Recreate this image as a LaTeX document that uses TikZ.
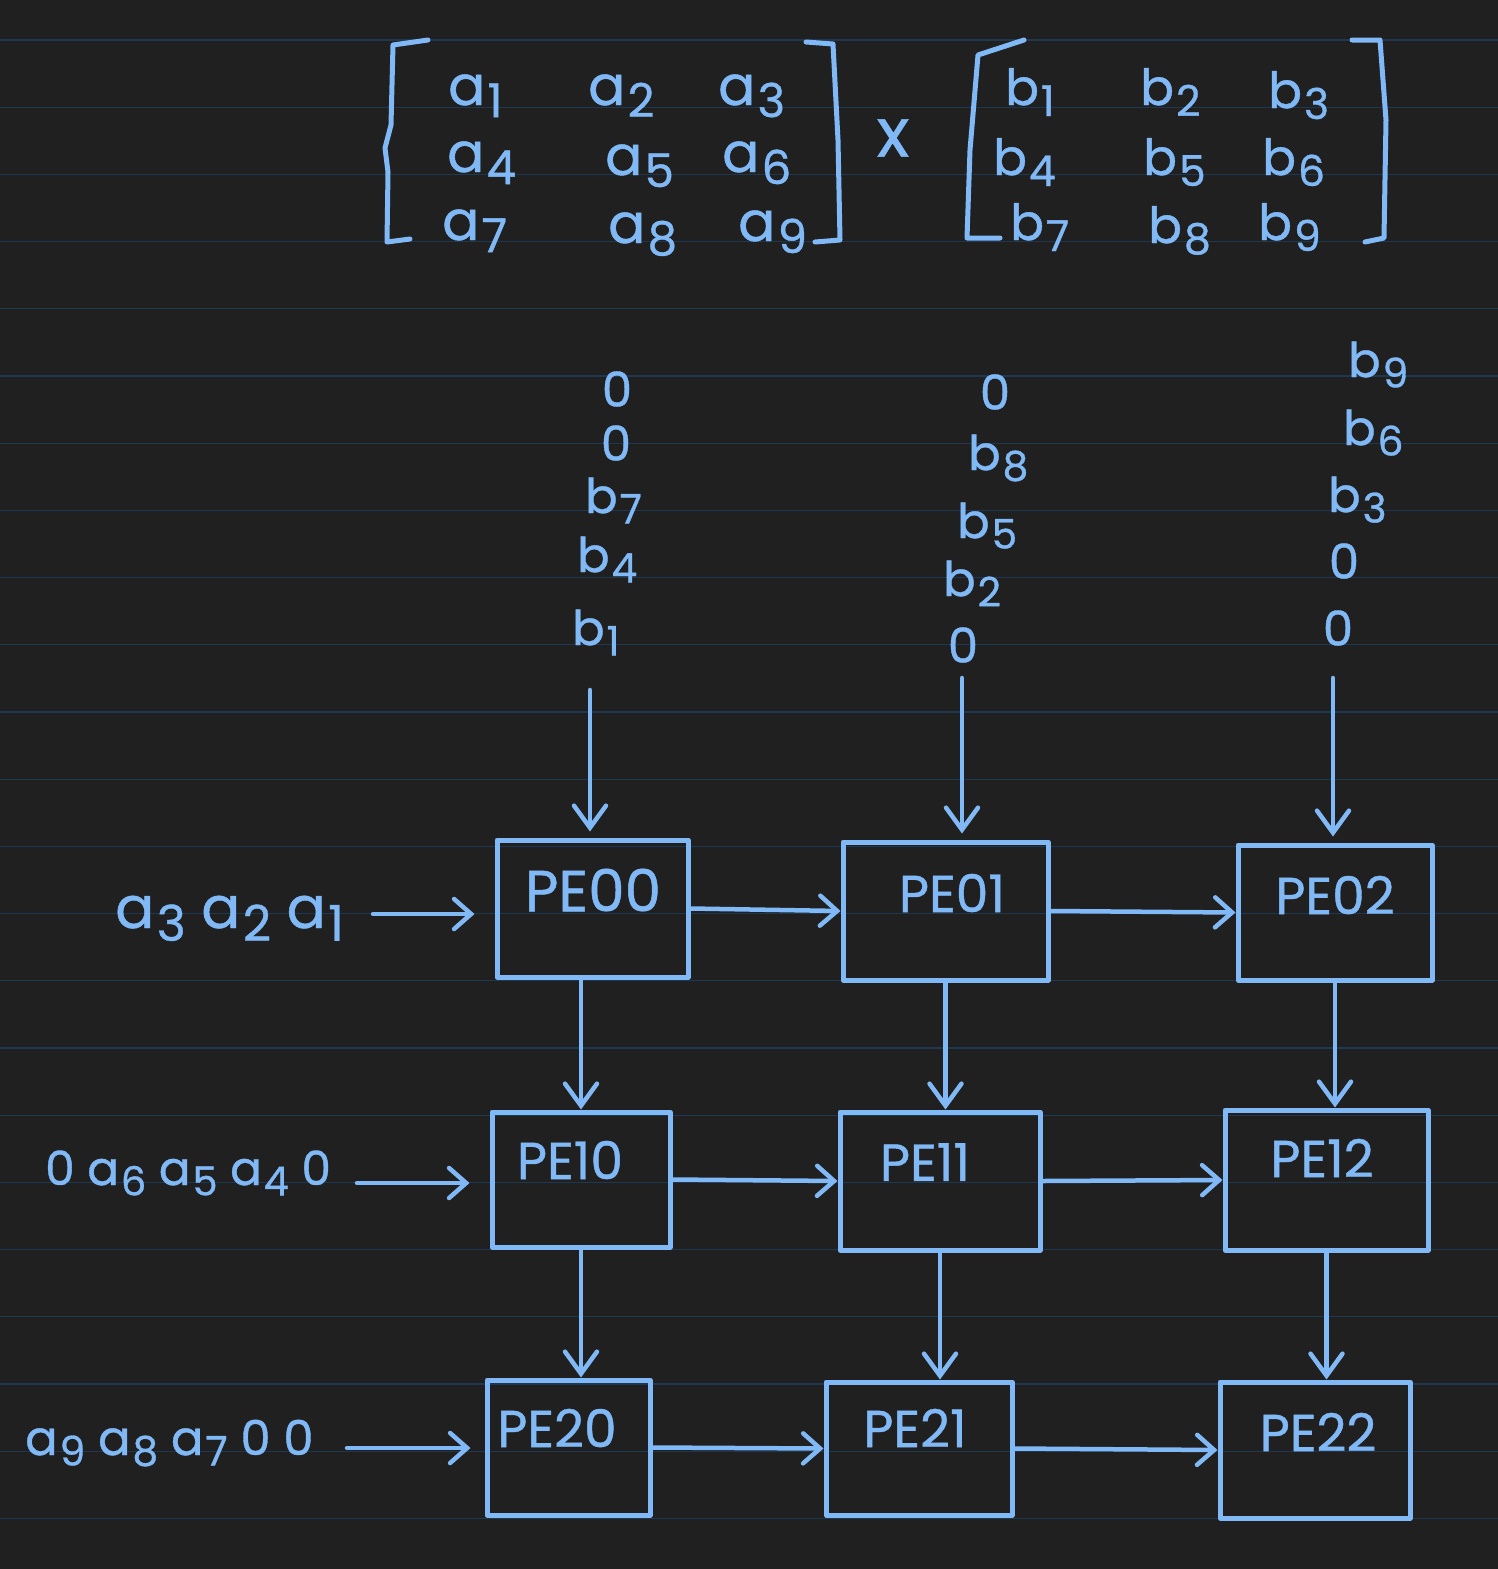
\documentclass[tikz,border=0pt]{standalone}
\usepackage{fontspec}
\usepackage{graphicx}
\setmainfont{Poppins}[FakeBold=0.8]
\usetikzlibrary{arrows.meta}

\definecolor{paper}{RGB}{32,32,32}
\definecolor{ruling}{RGB}{30,56,82}
\definecolor{ink}{RGB}{128,185,246}

% letter with a lowered, slightly smaller index
\newcommand\ix[2]{#1\kern0.04em\raisebox{-0.22em}{\scalebox{0.85}{#2}}}

\tikzset{
  stroke/.style={draw=ink, line width=5pt, line cap=round, line join=round},
  arr/.style={draw=ink, line width=4.5pt, line cap=round,
    -{Straight Barb[length=17pt,width=30pt,line cap=round]}},
  varr/.style={arr, -{Straight Barb[length=22pt,width=32pt,line cap=round]}},
  pebox/.style={draw=ink, line width=5pt, line join=round, inner sep=0pt},
  petxt/.style={text=ink, font=\fontsize{52}{56}\selectfont, inner sep=0pt},
  ent/.style={text=ink, font=\fontsize{55}{60}\selectfont, inner sep=0pt, anchor=base west},
  bent/.style={ent, font=\fontsize{50}{55}\selectfont},
  cin/.style={text=ink, font=\fontsize{48}{50}\selectfont, inner sep=0pt, anchor=base west},
  zero/.style={cin, anchor=center},
  rowin/.style={text=ink, inner sep=0pt, anchor=base west},
  ruleline/.style={draw=ruling, line width=1.3pt},
}

\begin{document}
\begin{tikzpicture}[x=1pt,y=-1pt]
  % page
  \fill[paper] (0,0) rectangle (1498,1569);
  \useasboundingbox (0,0) rectangle (1498,1569);
  \foreach \k in {0,...,22}
    \draw[ruleline] (0,{40+67.2*\k}) -- (1498,{40+67.2*\k});

  % ---- matrix A ----
  \draw[stroke] (428,40) -- (393,45) -- (391,125) -- (385,148) -- (388,172) -- (387,242) -- (410,239);
  \draw[stroke] (806,42) -- (833,44) -- (838,140) -- (840,240) -- (815,242);
  \node[ent] (a1) at (448,105) {\ix{a}{1}};
  \node[ent] (a2) at (588,105) {\ix{a}{2}};
  \node[ent] (a3) at (718,105) {\ix{a}{3}};
  \node[ent] (a4) at (447,172) {\ix{a}{4}};
  \node[ent] (a5) at (605,175) {\ix{a}{5}};
  \node[ent] (a6) at (722,172) {\ix{a}{6}};
  \node[ent] (a7) at (442,240) {\ix{a}{7}};
  \node[ent] (a8) at (608,243) {\ix{a}{8}};
  \node[ent] (a9) at (738,241) {\ix{a}{9}};

  \node[text=ink, font=\fontsize{68}{70}\selectfont, inner sep=0pt] (times) at (893,138) {x};

  % ---- matrix B ----
  \draw[stroke] (1024,40) -- (978,55) -- (970,150) -- (967,238) -- (1000,238);
  \draw[stroke] (1352,40) -- (1380,40) -- (1386,120) -- (1384,238) -- (1365,242);
  \node[bent] (b1) at (1005,105) {\ix{b}{1}};
  \node[bent] (b2) at (1140,105) {\ix{b}{2}};
  \node[bent] (b3) at (1268,108) {\ix{b}{3}};
  \node[bent] (b4) at (993,175) {\ix{b}{4}};
  \node[bent] (b5) at (1143,175) {\ix{b}{5}};
  \node[bent] (b6) at (1262,175) {\ix{b}{6}};
  \node[bent] (b7) at (1010,240) {\ix{b}{7}};
  \node[bent] (b8) at (1148,243) {\ix{b}{8}};
  \node[bent] (b9) at (1258,240) {\ix{b}{9}};

  % ---- column feeds ----
  \node[zero] (c0z1) at (617,389) {0};
  \node[zero] (c0z2) at (616,443) {0};
  \node[cin] (c0b7) at (585,513) {\ix{b}{7}};
  \node[cin] (c0b4) at (577,572) {\ix{b}{4}};
  \node[cin] (c0b1) at (572,645) {\ix{b}{1}};

  \node[zero] (c1z1) at (995,392) {0};
  \node[cin] (c1b8) at (968,470) {\ix{b}{8}};
  \node[cin] (c1b5) at (957,538) {\ix{b}{5}};
  \node[cin] (c1b2) at (943,596) {\ix{b}{2}};
  \node[zero] (c1z2) at (963,645) {0};

  \node[cin] (c2b9) at (1348,377) {\ix{b}{9}};
  \node[cin] (c2b6) at (1343,445) {\ix{b}{6}};
  \node[cin] (c2b3) at (1328,512) {\ix{b}{3}};
  \node[zero] (c2z1) at (1344,561) {0};
  \node[zero] (c2z2) at (1338,628) {0};

  % ---- row feeds ----
  \node[rowin, font=\fontsize{58}{60}\selectfont] (r0) at (115,928) {\ix{a}{3} \ix{a}{2} \ix{a}{1}};
  \node[rowin, font=\fontsize{47}{50}\selectfont] (r1) at (45,1185) {0 \ix{a}{6} \ix{a}{5} \ix{a}{4} 0};
  \node[rowin, font=\fontsize{48}{50}\selectfont] (r2) at (25,1455) {\ix{a}{9} \ix{a}{8} \ix{a}{7} 0 0};

  % ---- processing elements ----
  \node[pebox, minimum width=191pt, minimum height=137pt] (pe00) at (592.5,908.5) {};
  \node[pebox, minimum width=205pt, minimum height=138pt] (pe01) at (945.5,911) {};
  \node[pebox, minimum width=194pt, minimum height=135pt] (pe02) at (1335,912.5) {};
  \node[pebox, minimum width=178pt, minimum height=135pt] (pe10) at (581,1179.5) {};
  \node[pebox, minimum width=200pt, minimum height=138pt] (pe11) at (940,1181) {};
  \node[pebox, minimum width=203pt, minimum height=140pt] (pe12) at (1326.5,1180) {};
  \node[pebox, minimum width=163pt, minimum height=135pt] (pe20) at (568.5,1447.5) {};
  \node[pebox, minimum width=186pt, minimum height=133pt] (pe21) at (919,1448.5) {};
  \node[pebox, minimum width=190pt, minimum height=136pt] (pe22) at (1315,1450) {};

  \node[petxt, font=\fontsize{58}{60}\selectfont] (t00) at (593,890) {PE00};
  \node[petxt] (t01) at (952,893) {PE01};
  \node[petxt] (t02) at (1335,895) {PE02};
  \node[petxt] (t10) at (570,1160) {PE10};
  \node[petxt] (t11) at (925,1162) {PE11};
  \node[petxt] (t12) at (1322,1158) {PE12};
  \node[petxt] (t20) at (557,1428) {PE20};
  \node[petxt] (t21) at (915,1428) {PE21};
  \node[petxt] (t22) at (1318,1432) {PE22};

  % ---- column feed arrows ----
  \coordinate (in0) at (590,690);
  \coordinate (in1) at (962,678);
  \coordinate (in2) at (1333,678);
  \draw[varr, shorten >=6pt] (in0) -- (in0 |- pe00.north);
  \draw[varr, shorten >=6pt] (in1) -- (in1 |- pe01.north);
  \draw[varr, shorten >=6pt] (in2) -- (in2 |- pe02.north);

  % ---- row feed arrows ----
  \coordinate (rin0) at (373,914);
  \coordinate (rin1) at (357,1183);
  \coordinate (rin2) at (347,1448);
  \draw[arr, shorten >=20pt] (rin0) -- (rin0 -| pe00.west);
  \draw[arr, shorten >=20pt] (rin1) -- (rin1 -| pe10.west);
  \draw[arr, shorten >=14pt] (rin2) -- (rin2 -| pe20.west);

  % ---- horizontal links ----
  \draw[arr] (pe00.east) -- (pe01.west);
  \draw[arr] (pe01.east) -- (pe02.west);
  \draw[arr] (pe10.east) -- (pe11.west);
  \draw[arr] (pe11.east) -- (pe12.west);
  \draw[arr] (pe20.east) -- (pe21.west);
  \draw[arr] (pe21.east) -- (pe22.west);

  % ---- vertical links ----
  \draw[varr] (pe10.north |- pe00.south) -- (pe10.north);
  \draw[varr] (pe01.south) -- (pe01.south |- pe11.north);
  \draw[varr] (pe02.south) -- (pe02.south |- pe12.north);
  \draw[varr] (pe10.south) -- (pe10.south |- pe20.north);
  \draw[varr] (pe11.south) -- (pe11.south |- pe21.north);
  \draw[varr] (pe12.south) -- (pe12.south |- pe22.north);
\end{tikzpicture}
\end{document}
